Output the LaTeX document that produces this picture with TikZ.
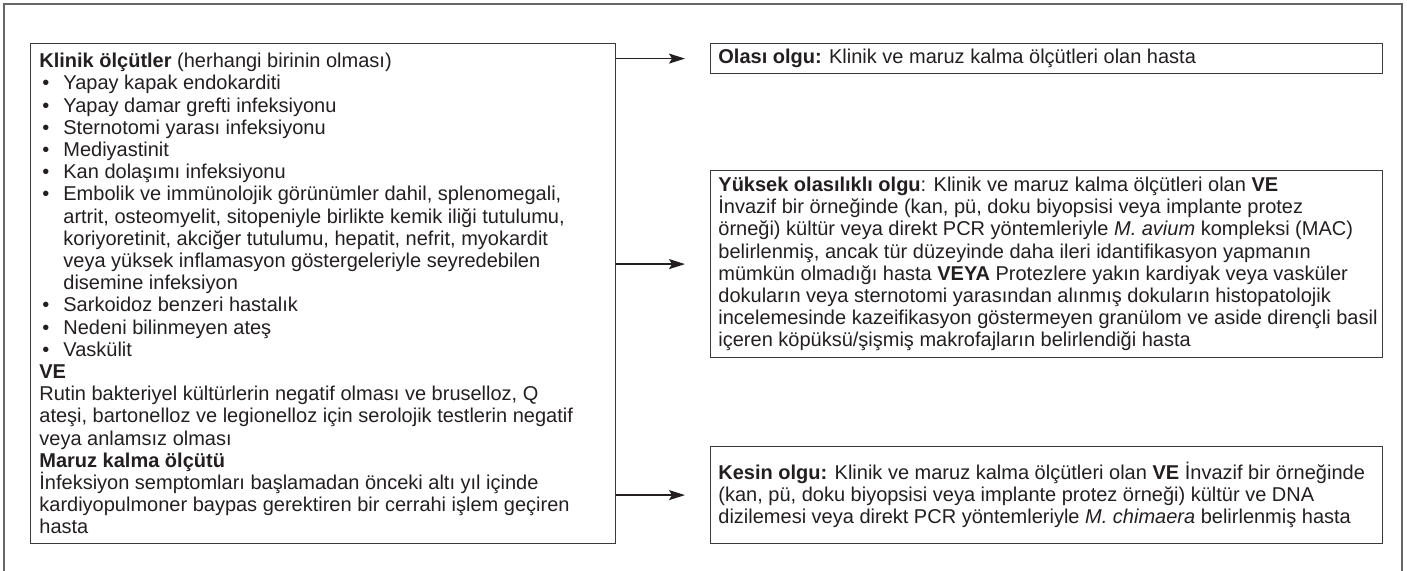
\documentclass[tikz,border=0pt]{standalone}
\usepackage{fontspec}
\setmainfont{Liberation Sans}
\usetikzlibrary{arrows.meta,calc}
\definecolor{boxgray}{HTML}{3A3A3A}
\definecolor{txt}{HTML}{231F20}
\definecolor{framegray}{HTML}{666666}
\newcommand{\bul}{\makebox[12pt][l]{\hspace{1.5pt}\textbullet}}
\newcommand{\ind}{\hspace*{12pt}}
\begin{document}
\begin{tikzpicture}[x=0.5pt,y=-0.5pt,
  box/.style={draw=boxgray, line width=0.6pt, anchor=north west, inner sep=0pt},
  body/.style={anchor=west, align=left, inner sep=0pt, text=txt,
    font=\fontsize{10pt}{11.1pt}\selectfont},
  arr/.style={draw=txt, line width=0.75pt, -{Stealth[length=8pt,width=5pt,inset=1.5pt]}}]
\useasboundingbox (0,0) rectangle (1407,571);
\draw[framegray, line width=0.6pt] (4,571) -- (4,4) -- (1402,4) -- (1402,571);

% boxes
\node[box, minimum width=292.5pt, minimum height=250pt] (L) at (30,43) {};
\node[box, minimum width=336pt, minimum height=15pt] (O) at (710,43) {};
\node[box, minimum width=336pt, minimum height=93.5pt] (Y) at (710,170) {};
\node[box, minimum width=336pt, minimum height=48.5pt] (K) at (710,446) {};

% texts
\node[body] (Lt) at ([xshift=4.5pt]L.west) {%
\textbf{Klinik ölçütler} (herhangi birinin olması)\\
\bul Yapay kapak endokarditi\\
\bul Yapay damar grefti infeksiyonu\\
\bul Sternotomi yarası infeksiyonu\\
\bul Mediyastinit\\
\bul Kan dolaşımı infeksiyonu\\
\bul Embolik ve immünolojik görünümler dahil, splenomegali,\\
\ind artrit, osteomyelit, sitopeniyle birlikte kemik iliği tutulumu,\\
\ind koriyoretinit, akciğer tutulumu, hepatit, nefrit, myokardit\\
\ind veya yüksek inflamasyon göstergeleriyle seyredebilen\\
\ind disemine infeksiyon\\
\bul Sarkoidoz benzeri hastalık\\
\bul Nedeni bilinmeyen ateş\\
\bul Vaskülit\\
\textbf{VE}\\
Rutin bakteriyel kültürlerin negatif olması ve bruselloz, Q\\
ateşi, bartonelloz ve legionelloz için serolojik testlerin negatif\\
veya anlamsız olması\\
\textbf{Maruz kalma ölçütü}\\
İnfeksiyon semptomları başlamadan önceki altı yıl içinde\\
kardiyopulmoner baypas gerektiren bir cerrahi işlem geçiren\\
hasta};

\node[body] (Ot) at ([xshift=4pt]O.west) {%
\textbf{Olası olgu:} Klinik ve maruz kalma ölçütleri olan hasta};

\node[body] (Yt) at ([xshift=4pt]Y.west) {%
\textbf{Yüksek olasılıklı olgu}: Klinik ve maruz kalma ölçütleri olan \textbf{VE}\\
İnvazif bir örneğinde (kan, pü, doku biyopsisi veya implante protez\\
örneği) kültür veya direkt PCR yöntemleriyle \textit{M. avium} kompleksi (MAC)\\
belirlenmiş, ancak tür düzeyinde daha ileri idantifikasyon yapmanın\\
mümkün olmadığı hasta \textbf{VEYA} Protezlere yakın kardiyak veya vasküler\\
dokuların veya sternotomi yarasından alınmış dokuların histopatolojik\\
incelemesinde kazeifikasyon göstermeyen granülom ve aside dirençli basil\\
içeren köpüksü/şişmiş makrofajların belirlendiği hasta};

\node[body] (Kt) at ([xshift=4pt]K.west) {%
\textbf{Kesin olgu:} Klinik ve maruz kalma ölçütleri olan \textbf{VE} İnvazif bir örneğinde\\
(kan, pü, doku biyopsisi veya implante protez örneği) kültür ve DNA\\
dizilemesi veya direkt PCR yöntemleriyle \textit{M. chimaera} belirlenmiş hasta};

% connectors
\draw[arr] (L.east |- O.west) -- ($(O.west)+(-12.5pt,0)$);
\draw[arr] (L.east |- Y.west) -- ($(Y.west)+(-12.5pt,0)$);
\draw[arr] (L.east |- K.west) -- ($(K.west)+(-12.5pt,0)$);
\end{tikzpicture}
\end{document}
